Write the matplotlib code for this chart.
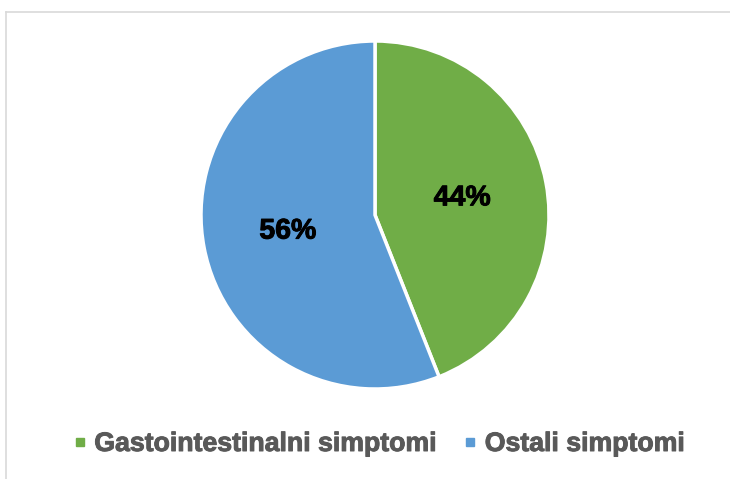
import matplotlib
matplotlib.use('Agg')
import matplotlib.pyplot as plt
import matplotlib.patheffects as pe
from matplotlib.lines import Line2D

# ── Data ──────────────────────────────────────────────────────────────────────
categories = ['Gastointestinalni simptomi', 'Ostali simptomi']
shares     = [44, 56]
colors     = ['#70AD47', '#5B9BD5']

plt.rcParams['font.family'] = ['Liberation Sans', 'DejaVu Sans']

W, H = 730, 479
fig = plt.figure(figsize=(W / 100, H / 100), dpi=100)
fig.patch.set_facecolor('white')

# ── Chart frame (only top and left edges visible) ─────────────────────────────
fx, fy = 5.5 / W, 1 - 11.5 / H
fig.add_artist(Line2D([fx, fx], [0, fy], color='#d9d9d9', lw=1.2))
fig.add_artist(Line2D([fx, 1], [fy, fy], color='#d9d9d9', lw=1.2))

# ── Pie ───────────────────────────────────────────────────────────────────────
cx, cy, r = 375, 215, 174
ax = fig.add_axes([(cx - r) / W, 1 - (cy + r) / H, 2 * r / W, 2 * r / H])
wedges, texts, autotexts = ax.pie(
    shares, colors=colors, startangle=90, counterclock=False,
    autopct='%1.0f%%', pctdistance=0.51,
    wedgeprops=dict(edgecolor='white', linewidth=2.5),
    textprops=dict(fontsize=20.5, fontweight='bold', color='black'))
for t in autotexts:
    t.set_path_effects([pe.withStroke(linewidth=0.7, foreground='black')])
ax.set_xlim(-1, 1)
ax.set_ylim(-1, 1)
ax.set_aspect('auto')
ax.axis('off')

# ── Legend ────────────────────────────────────────────────────────────────────
handles = [Line2D([], [], marker='s', linestyle='', markersize=5.8,
                  markerfacecolor=c, markeredgecolor=c) for c in colors]
leg = fig.legend(handles, categories, loc='center', ncol=2,
                 bbox_to_anchor=(380 / W, 1 - 444 / H), frameon=False,
                 handlelength=0.3, handletextpad=0.4, columnspacing=1.15,
                 prop=dict(size=19.2, weight='bold'))
for t in leg.get_texts():
    t.set_color('#595959')
    t.set_path_effects([pe.withStroke(linewidth=0.7, foreground='#595959')])

fig.savefig('out.png', dpi=100)
